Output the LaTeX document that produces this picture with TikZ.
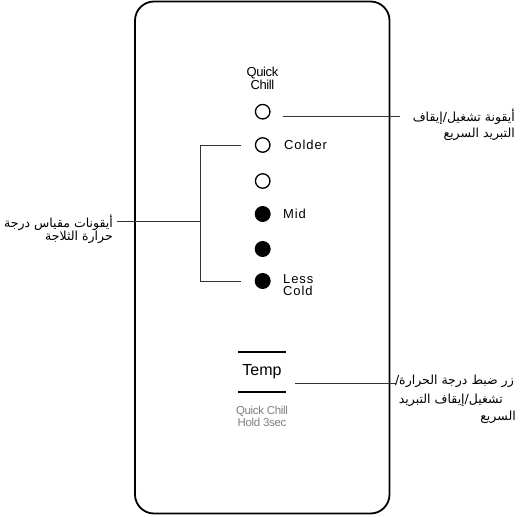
\documentclass[tikz,border=0pt]{standalone}
\usepackage{fontspec}
\setmainfont{Liberation Sans}
\newfontfamily\arabicfont[Script=Arabic]{DejaVu Sans}
\TeXXeTstate=1
\definecolor{conncol}{HTML}{333333}
\definecolor{greytxt}{HTML}{808080}
\tikzset{
  frame/.style={draw=black, line width=1.8pt, rounded corners=19pt},
  ledoff/.style={circle, draw=black, line width=1.3pt, minimum size=14.5pt, inner sep=0pt},
  ledon/.style={circle, fill=black, minimum size=16pt, inner sep=0pt},
  lbl/.style={inner sep=0pt, font=\fontsize{13}{13}\selectfont\addfontfeature{LetterSpace=7}, align=left, anchor=west},
  qc/.style={inner sep=0pt, font=\fontsize{13}{13}\selectfont\addfontfeature{LetterSpace=-3}, align=center},
  grey/.style={inner sep=0pt, text=greytxt, font=\fontsize{11.5}{12}\selectfont\addfontfeature{LetterSpace=-3}, align=center},
  ar/.style={inner sep=0pt, font=\arabicfont\fontsize{12.5}{14}\selectfont, anchor=east},
  conn/.style={draw=conncol, line width=0.9pt},
  bar/.style={draw=black, line width=1.7pt}
}
\begin{document}
\begin{tikzpicture}[x=1pt,y=-1pt]
\useasboundingbox (0,0) rectangle (531,517);
\draw[frame] (135,1.5) rectangle (389.5,513.5);

% header
\node[qc] (qchill) at (262.5,78.3) {Quick\\Chill};

% LEDs
\node[ledoff] (c1) at (262.7,111.7) {};
\node[ledoff] (c2) at (262.7,145) {};
\node[ledoff] (c3) at (262.7,181) {};
\node[ledon]  (c4) at (262.7,214) {};
\node[ledon]  (c5) at (262.7,249) {};
\node[ledon]  (c6) at (262.7,281) {};

\node[lbl] (colder) at (284,145) {Colder};
\node[lbl] (mid) at (283,214) {Mid};
\node[lbl, font=\fontsize{13}{12}\selectfont\addfontfeature{LetterSpace=7}] (less) at (283,285) {Less\\Cold};

% Temp button
\node[inner sep=0pt, font=\fontsize{16}{16}\selectfont] (temp) at (262,371.7) {Temp};
\draw[bar] (238,352.3) -- (286,352.3);
\draw[bar] (238,391.7) -- (286,391.7);
\node[grey] (hold) at (262,416) {Quick Chill\\Hold 3sec};

% top right label
\coordinate (q1) at (283,116.7);
\coordinate (q2) at (400,116.7);
\draw[conn] (q1) -- (q2);
\node[ar] (tr1) at (515,116.7) {\beginR أيقونة تشغيل/إيقاف\endR};
\node[ar] (tr2) at (515,134.5) {\beginR التبريد السريع\endR};

% left bracket label
\coordinate (bt) at (241,145);
\coordinate (bv1) at (200.7,145);
\coordinate (bv2) at (200.7,281.7);
\coordinate (bb) at (241,281.7);
\coordinate (bm) at (200.7,221);
\coordinate (bl) at (117,221);
\draw[conn] (bt) -- (bv1) -- (bv2) -- (bb);
\draw[conn] (bm) -- (bl);
\node[ar] (ll1) at (113,222.7) {\beginR أيقونات مقياس درجة\endR};
\node[ar] (ll2) at (113,237.5) {\beginR حرارة الثلاجة\endR};

% bottom right label
\coordinate (t1) at (295,383);
\coordinate (t2) at (396,383);
\draw[conn] (t1) -- (t2);
\begin{scope}
\clip (391,360) rectangle (531,430);
\node[ar] (br1) at (514,381.7) {\beginR زر ضبط درجة الحرارة/\endR};
\node[ar] (br2) at (503,400) {\beginR تشغيل/إيقاف التبريد\endR};
\node[ar] (br3) at (516,417.5) {\beginR السريع\endR};
\end{scope}
\end{tikzpicture}
\end{document}
